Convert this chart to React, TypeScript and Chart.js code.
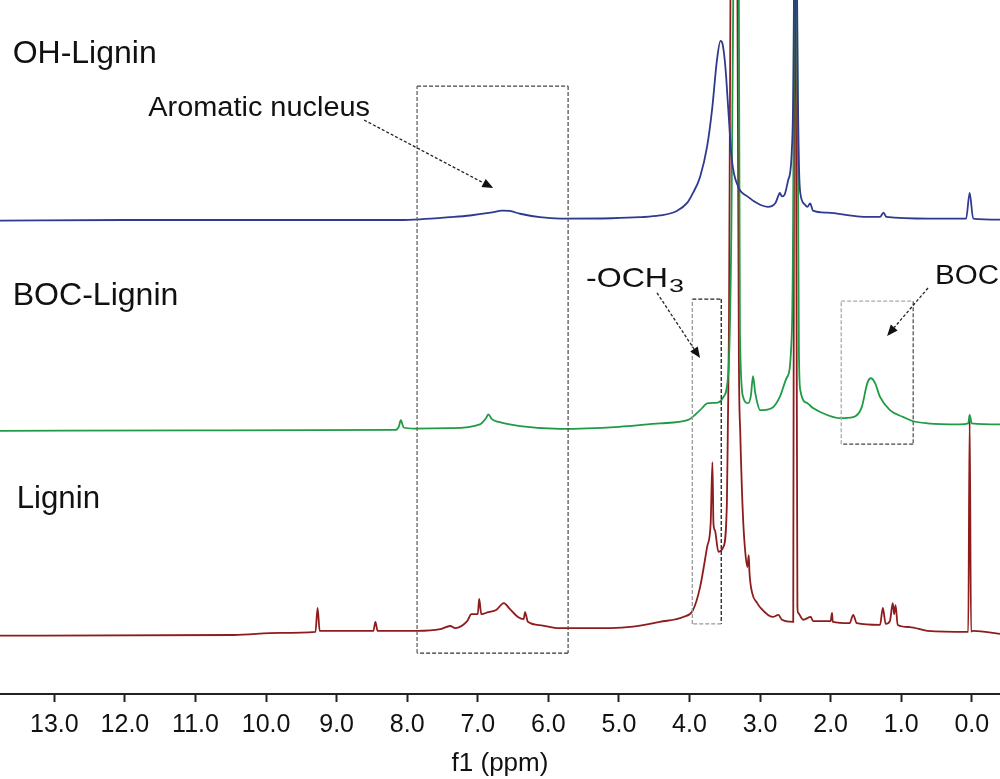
import React, { useEffect, useRef } from "react";
import { Chart, registerables } from "chart.js";

Chart.register(...registerables);

const FONT = "'Liberation Sans', Arial, Helvetica, sans-serif";

// x-axis tick labels (ppm)
const TICK_VALUES = [0, 1, 2, 3, 4, 5, 6, 7, 8, 9, 10, 11, 12, 13];
const X_MIN = -0.4;
const X_MAX = 13.77;

// vertical offsets of the stacked spectra (arbitrary intensity units, axis 0..100)
const OFFSET_LIGNIN = 8.5;
const OFFSET_BOC = 38.0;
const OFFSET_OH = 68.2;

// OH-Lignin spectrum: [ppm, intensity]
const OH_LIGNIN: [number, number][] = [
  [13.77, 0], [12.0, 0.1], [10.0, 0.1], [8.1, 0.1], [7.82, 0.2], [7.4, 0.5], [7.11, 0.75],
  [6.82, 1.15], [6.65, 1.45], [6.55, 1.4], [6.4, 1.0], [6.12, 0.5], [5.83, 0.3], [5.1, 0.35],
  [4.7, 0.5], [4.42, 0.75], [4.18, 1.4], [4.03, 2.6], [3.95, 4.0], [3.85, 6.3], [3.75, 10.7],
  [3.68, 16.0], [3.61, 23.2], [3.56, 25.9], [3.53, 25.4], [3.49, 22], [3.45, 16.0], [3.4, 8.8],
  [3.31, 4.9], [3.18, 3.5], [3.0, 2.3], [2.89, 2.0], [2.78, 2.6], [2.74, 3.6], [2.72, 4.0],
  [2.69, 3.5], [2.65, 3.8], [2.6, 5.9], [2.55, 10.2], [2.52, 31.8], [2.5, 100], [2.475, 31.8],
  [2.45, 8.8], [2.43, 4.0], [2.37, 2.4], [2.33, 2.0], [2.29, 2.5], [2.25, 1.45], [2.05, 1.15],
  [1.58, 0.6], [1.3, 0.55], [1.25, 1.15], [1.21, 0.55], [0.6, 0.3], [0.08, 0.3], [0.03, 4.0],
  [-0.02, 0.3], [-0.4, 0.15],
];

// BOC-Lignin spectrum: [ppm, intensity]
const BOC_LIGNIN: [number, number][] = [
  [13.77, -0.1], [11.0, 0], [8.17, 0.05], [8.12, 0.5], [8.09, 1.45], [8.05, 0.4], [7.9, 0.25],
  [7.39, 0.3], [6.97, 0.85], [6.88, 1.8], [6.85, 2.3], [6.8, 1.6], [6.7, 1.2], [6.4, 0.6],
  [5.83, 0.2], [5.0, 0.5], [4.42, 1.0], [4.03, 1.45], [3.85, 2.9], [3.74, 3.9], [3.6, 4.0],
  [3.52, 4.8], [3.45, 8.2], [3.41, 26], [3.38, 62], [3.35, 160], [3.3, 62], [3.285, 14],
  [3.24, 4.8], [3.17, 3.9], [3.13, 5.0], [3.1, 7.8], [3.07, 5.5], [3.04, 4.0], [3.0, 2.9],
  [2.82, 3.3], [2.72, 4.8], [2.62, 7.6], [2.55, 14], [2.52, 62], [2.5, 200], [2.475, 62],
  [2.45, 12], [2.43, 5.8], [2.33, 3.9], [2.25, 3.2], [2.05, 2.2], [1.87, 1.75], [1.68, 1.9],
  [1.56, 3.3], [1.48, 6.8], [1.43, 7.5], [1.37, 6.8], [1.3, 4.8], [1.16, 2.9], [0.97, 1.9],
  [0.83, 1.3], [0.63, 1.0], [0.17, 0.85], [0.05, 1.0], [0.03, 2.2], [0.0, 1.0], [-0.4, 0.85],
];

// Lignin spectrum: [ppm, intensity]
const LIGNIN: [number, number][] = [
  [13.77, -0.1], [10.46, 0], [9.8, 0.3], [9.3, 0.45], [9.27, 3.9], [9.24, 0.6], [8.48, 0.6],
  [8.45, 1.9], [8.42, 0.6], [7.86, 0.6], [7.53, 0.85], [7.39, 1.3], [7.32, 1.0], [7.15, 2.0],
  [7.09, 3.0], [7.0, 3.0], [6.98, 5.2], [6.95, 3.0], [6.85, 3.3], [6.74, 3.6], [6.63, 4.6],
  [6.55, 3.8], [6.43, 2.6], [6.35, 2.3], [6.33, 3.3], [6.29, 1.9], [6.1, 1.4], [5.88, 1.0],
  [5.12, 1.0], [4.8, 1.2], [4.42, 1.9], [4.09, 2.6], [3.95, 3.6], [3.85, 6.9], [3.75, 12.7],
  [3.7, 16.1], [3.675, 24.9], [3.66, 16], [3.64, 15.1], [3.59, 12.0], [3.52, 12.7], [3.47, 19.0],
  [3.455, 31], [3.44, 45], [3.42, 91], [3.37, 250], [3.32, 91], [3.3, 40], [3.28, 29],
  [3.25, 19], [3.24, 16.6], [3.21, 12], [3.18, 9.8], [3.16, 11.5], [3.15, 9.0], [3.11, 6.0],
  [3.04, 4.6], [3.0, 4.0], [2.82, 2.6], [2.74, 2.9], [2.69, 2.2], [2.53, 1.9], [2.515, 91.5],
  [2.505, 300], [2.495, 91.5], [2.47, 4], [2.46, 3.2], [2.39, 2.2], [2.28, 2.6], [2.25, 2.0],
  [2.0, 2.0], [1.98, 3.2], [1.97, 1.9], [1.73, 1.7], [1.68, 2.9], [1.63, 1.7], [1.3, 1.45],
  [1.26, 3.9], [1.22, 1.6], [1.16, 2.0], [1.12, 4.6], [1.1, 3.0], [1.08, 4.3], [1.05, 1.45],
  [0.88, 1.15], [0.63, 0.6], [0.05, 0.45], [0.03, 31], [0.01, 0.5], [-0.02, 0.6], [-0.4, 0.15],
];

const SERIES_NAMES = ["OH-Lignin", "BOC-Lignin", "Lignin"];

function toPoints(data: [number, number][], offset: number) {
  return data.map(([x, y]) => ({ x, y: y + offset }));
}

type Box = { x1: number; x2: number; y1: number; y2: number; edges: [string, string, string, string] };
// edges: top, right, bottom, left
const BOXES: Box[] = [
  { x1: 7.86, x2: 5.72, y1: 87.6, y2: 5.9, edges: ["#444", "#555", "#333", "#666"] },
  { x1: 3.96, x2: 3.55, y1: 56.9, y2: 10.1, edges: ["#222", "#222", "#999", "#999"] },
  { x1: 1.85, x2: 0.83, y1: 56.6, y2: 36.0, edges: ["#aaa", "#555", "#444", "#aaa"] },
];

type Arrow = { x1: number; y1: number; x2: number; y2: number };
const ARROWS: Arrow[] = [
  { x1: 8.61, y1: 82.7, x2: 6.78, y2: 72.9 },
  { x1: 4.46, y1: 57.8, x2: 3.85, y2: 48.4 },
  { x1: 0.62, y1: 58.5, x2: 1.2, y2: 51.6 },
];

type Label = { text: string; x: number; y: number; size: number; width: number };
const LABELS: Label[] = [
  { text: "OH-Lignin", x: 12.7, y: 62.5, size: 32, width: 144 },
  { text: "BOC-Lignin", x: 12.7, y: 305, size: 31, width: 165.7 },
  { text: "Lignin", x: 16.7, y: 508, size: 31, width: 83.3 },
  { text: "Aromatic nucleus", x: 148.3, y: 116, size: 27, width: 221.7 },
  { text: "-OCH", x: 586, y: 287, size: 27.5, width: 82 },
  { text: "3", x: 669, y: 292, size: 19, width: 15 },
  { text: "BOC", x: 935, y: 284, size: 27, width: 64 },
];

const annotationPlugin = {
  id: "nmrAnnotations",
  afterDatasetsDraw(chart: any) {
    const ctx: CanvasRenderingContext2D = chart.ctx;
    const xs = chart.scales.x;
    const ys = chart.scales.y;
    ctx.save();
    // dashed boxes
    ctx.lineWidth = 1.3;
    ctx.setLineDash([4, 2]);
    for (const b of BOXES) {
      const l = xs.getPixelForValue(b.x1);
      const r = xs.getPixelForValue(b.x2);
      const t = ys.getPixelForValue(b.y1);
      const bt = ys.getPixelForValue(b.y2);
      const segs: [number, number, number, number][] = [
        [l, t, r, t],
        [r, t, r, bt],
        [r, bt, l, bt],
        [l, bt, l, t],
      ];
      segs.forEach((s, i) => {
        ctx.strokeStyle = b.edges[i];
        ctx.beginPath();
        ctx.moveTo(s[0], s[1]);
        ctx.lineTo(s[2], s[3]);
        ctx.stroke();
      });
    }
    // arrows
    for (const a of ARROWS) {
      const x1 = xs.getPixelForValue(a.x1);
      const y1 = ys.getPixelForValue(a.y1);
      const x2 = xs.getPixelForValue(a.x2);
      const y2 = ys.getPixelForValue(a.y2);
      const ang = Math.atan2(y2 - y1, x2 - x1);
      const headLen = 11;
      const headW = 4.5;
      const bx = x2 - headLen * Math.cos(ang);
      const by = y2 - headLen * Math.sin(ang);
      ctx.strokeStyle = "#222";
      ctx.lineWidth = 1.3;
      ctx.setLineDash([3, 2]);
      ctx.beginPath();
      ctx.moveTo(x1, y1);
      ctx.lineTo(bx, by);
      ctx.stroke();
      ctx.setLineDash([]);
      ctx.fillStyle = "#111";
      ctx.beginPath();
      ctx.moveTo(x2, y2);
      ctx.lineTo(bx + headW * Math.sin(ang), by - headW * Math.cos(ang));
      ctx.lineTo(bx - headW * Math.sin(ang), by + headW * Math.cos(ang));
      ctx.closePath();
      ctx.fill();
    }
    // labels
    ctx.fillStyle = "#111";
    ctx.textBaseline = "alphabetic";
    ctx.textAlign = "left";
    for (const lb of LABELS) {
      ctx.font = `${lb.size}px ${FONT}`;
      const m = ctx.measureText(lb.text).width;
      const sx = lb.width / m;
      ctx.save();
      ctx.translate(lb.x, lb.y);
      ctx.scale(sx, 1);
      ctx.fillText(lb.text, 0, 0);
      ctx.restore();
    }
    ctx.restore();
  },
};

export default function App() {
  const ref = useRef<HTMLCanvasElement>(null);
  useEffect(() => {
    if (!ref.current) return;
    const common = { borderWidth: 1.8, pointRadius: 0, cubicInterpolationMode: "monotone" };
    const chart = new Chart(ref.current, {
      type: "line",
      data: {
        datasets: [
          { label: SERIES_NAMES[0], data: toPoints(OH_LIGNIN, OFFSET_OH), borderColor: "#2e3a8f", ...common },
          { label: SERIES_NAMES[1], data: toPoints(BOC_LIGNIN, OFFSET_BOC), borderColor: "#1f9a45", ...common },
          { label: SERIES_NAMES[2], data: toPoints(LIGNIN, OFFSET_LIGNIN), borderColor: "#8e1c1c", ...common },
        ],
      },
      options: {
        animation: false,
        responsive: false,
        layout: { padding: 0 },
        plugins: { legend: { display: false }, tooltip: { enabled: false } },
        events: [],
        scales: {
          x: {
            type: "linear",
            reverse: true,
            min: X_MIN,
            max: X_MAX,
            afterBuildTicks: (s: any) => {
              s.ticks = TICK_VALUES.map((v) => ({ value: v }));
            },
            afterFit: (s: any) => {
              s.height = 85;
            },
            border: { display: true, color: "#222", width: 2 },
            grid: {
              display: true,
              drawOnChartArea: false,
              drawTicks: true,
              tickLength: 8,
              tickWidth: 2,
              tickColor: "#222",
            },
            ticks: {
              color: "#111",
              font: { family: FONT, size: 25 },
              padding: 8,
              maxRotation: 0,
              autoSkip: false,
              callback: (v: any) => Number(v).toFixed(1),
            },
            title: {
              display: true,
              text: "f1 (ppm)",
              color: "#111",
              font: { family: FONT, size: 26 },
              padding: { top: 0, bottom: 0 },
            },
          },
          y: {
            type: "linear",
            display: false,
            min: 0,
            max: 100,
          },
        },
      },
      plugins: [annotationPlugin],
    } as any);
    return () => chart.destroy();
  }, []);
  return (
    <div style={{ position: "absolute", left: 0, top: 0, width: 1000, height: 779, background: "#fff" }}>
      <canvas ref={ref} width={1000} height={779} style={{ display: "block", width: 1000, height: 779 }} />
    </div>
  );
}
